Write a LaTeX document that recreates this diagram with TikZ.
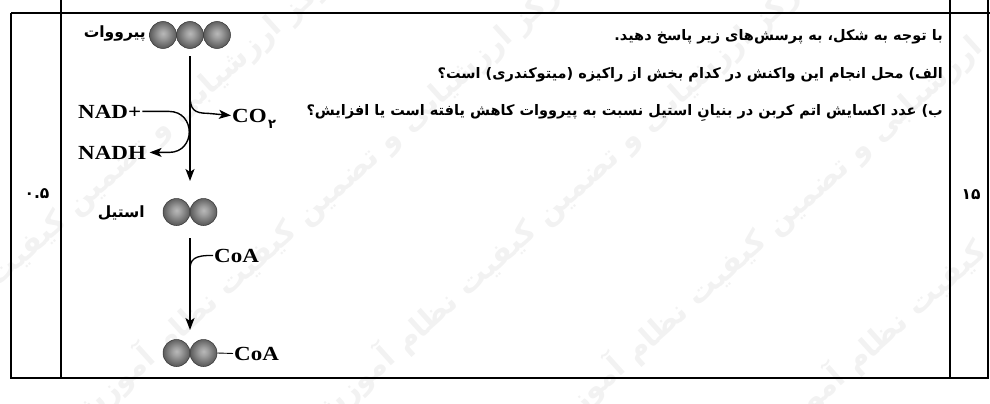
\documentclass[tikz,border=0pt]{standalone}
\usepackage{fontspec}
\usetikzlibrary{arrows.meta,calc}
\TeXXeTstate=1
\newfontfamily\fa[Script=Arabic]{DejaVu Sans}
\newfontfamily\lat[FakeStretch=1.15]{Liberation Serif}
\pgfdeclareradialshading{sph}{\pgfpoint{0bp}{3bp}}{color(0bp)=(gray!55);color(8bp)=(gray!75);color(30bp)=(black!72);color(50bp)=(black!88)}
\begin{document}
\begin{tikzpicture}[x=1pt,y=-1pt,
  sph/.style={circle,inner sep=0pt,minimum size=27pt,draw=black!80,line width=0.5pt,shading=sph},
  grp/.style={inner sep=0pt,minimum height=27pt},
  arr/.style={line width=1.4pt,-{Stealth[length=12pt,width=9pt,inset=3pt]}},
  ln/.style={line width=1.3pt},
  latl/.style={font=\lat\bfseries\fontsize{20}{20}\selectfont,inner sep=1pt},
  fal/.style={font=\fa\bfseries\fontsize{14.5}{16}\selectfont,inner sep=0pt},
  lbl/.style={font=\fa\bfseries\fontsize{15.5}{17}\selectfont,inner sep=0pt},
  tab/.style={line width=1.5pt},
  wm/.style={font=\fa\bfseries\fontsize{30}{30}\selectfont,text=gray!10,rotate=42}
]
\useasboundingbox (0,0) rectangle (990,404);
% watermark
\begin{scope}
\clip (0,0) rectangle (990,404);
\node[wm] (w1) at (90,190) {\beginR مرکز ارزشیابی و تضمین کیفیت نظام آموزش\endR};
\node[wm] (w2) at (320,200) {\beginR مرکز ارزشیابی و تضمین کیفیت نظام آموزش\endR};
\node[wm] (w3) at (560,200) {\beginR مرکز ارزشیابی و تضمین کیفیت نظام آموزش\endR};
\node[wm] (w4) at (790,210) {\beginR مرکز ارزشیابی و تضمین کیفیت نظام آموزش\endR};
\node[wm] (w5) at (1010,220) {\beginR مرکز ارزشیابی و تضمین کیفیت نظام آموزش\endR};
\end{scope}
% table
\draw[tab] (11,13) -- (990,13);
\draw[tab] (11,13) -- (11,378) -- (988,378) -- (988,0);
\draw[tab] (61,0) -- (61,378);
\draw[tab] (950,0) -- (950,378);
\node[lbl] (pts) at (37,194) {۰.۵};
\node[lbl] (num) at (971,195) {۱۵};
% questions
\node[fal,anchor=east] (q0) at (943,37) {\beginR با توجه به شکل، به پرسش‌های زیر پاسخ دهید.\endR};
\node[fal,anchor=east] (q1) at (943,75) {\beginR الف) محل انجام این واکنش در کدام بخش از راکیزه (میتوکندری) است؟\endR};
\node[fal,anchor=east] (q2) at (943,113) {\beginR ب) عدد اکسایش اتم کربن در بنیانِ استیل نسبت به پیرووات کاهش یافته است یا افزایش؟\endR};
% pyruvate
\node[sph] (p1) at (163,35) {};
\node[sph] (p2) at (190,35) {};
\node[sph] (p3) at (217,35) {};
\node[grp,minimum width=81pt,outer sep=8pt] (pyr) at (190,35) {};
\node[lbl,anchor=east] (pyrl) at (146,34) {\beginR پیرووات\endR};
% acetyl
\node[sph] (a1) at (176.5,212) {};
\node[sph] (a2) at (203.5,212) {};
\node[grp,minimum width=54pt,outer sep=12.5pt] (acet) at (190,212) {};
\node[lbl,anchor=east] (acl) at (145,213) {\beginR استیل\endR};
% acetyl-CoA
\node[sph] (c1) at (176.5,353) {};
\node[sph] (c2) at (203.5,353) {};
\node[grp,minimum width=54pt,outer sep=9.5pt] (acoa) at (190,353) {};
\node[latl,anchor=base west] (coa2) at (233,360) {CoA};
\draw[line width=0.9pt] (c2.east) -- (coa2.west);
% main arrows
\draw[arr] (pyr.south) -- ([yshift=5pt]acet.north);
\draw[arr] (acet.south) -- (acoa.north);
% CO2 branch
\coordinate (b1) at ($(pyr.south)!0.30!(acet.north)$);
\node[latl,anchor=base west] (co2) at (231,122) {CO};
\node[font=\fa\bfseries\fontsize{13}{13}\selectfont,inner sep=0pt,anchor=base west] (co2s) at ($(co2.base east)+(0,6)$) {۲};
\draw[arr] (b1) .. controls ($(b1)+(0,14)$) and ($(b1)+(4,18)$) .. ($(b1)+(18,18)$) -- (co2.west);
% NAD branch
\node[latl,anchor=base west] (nad) at (77,118) {NAD+};
\node[latl,anchor=base west,inner xsep=3.5pt] (nadh) at (74.5,159) {NADH};
\coordinate (n1) at ($(nad.east -| b1)+(-21,0)$);
\draw[arr] (nad.east) -- (n1) .. controls ($(n1)+(27,0)$) and ($(n1)+(27,41)$) .. ($(n1)+(0,41)$) -- (nadh.east);
% CoA branch
\coordinate (b3) at ($(acet.south)!0.35!(acoa.north)$);
\node[latl,anchor=base west] (coa1) at (213,262) {CoA};
\draw[ln] (b3) .. controls ($(b3)+(0,-11)$) and ($(b3)+(4,-15)$) .. (coa1.west);
\end{tikzpicture}
\end{document}
